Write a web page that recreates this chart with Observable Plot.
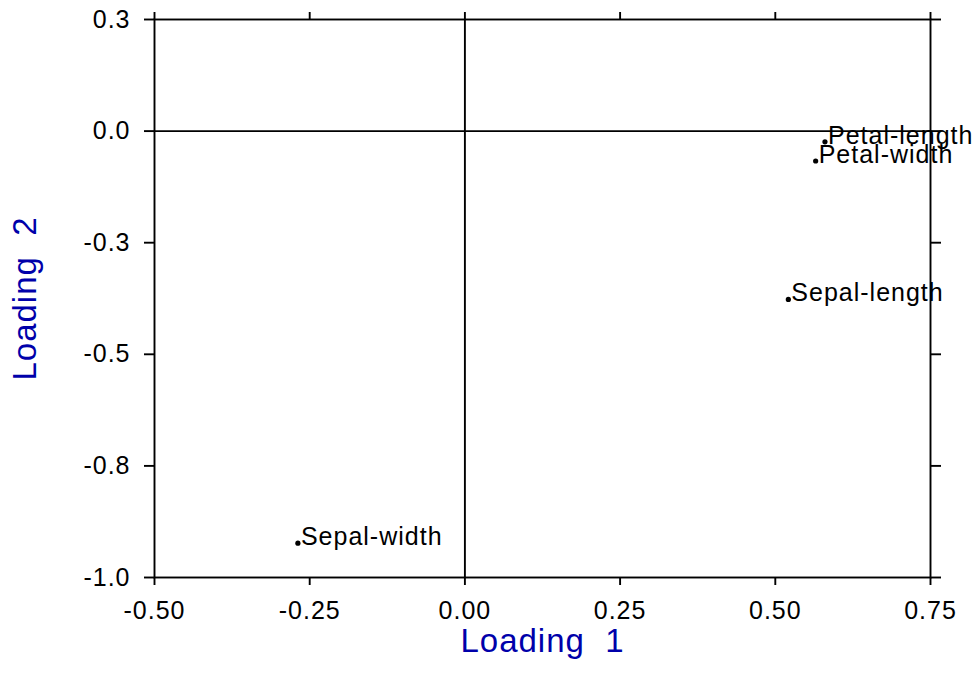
<!DOCTYPE html>
<html>
<head>
<meta charset="utf-8">
<script src="https://cdn.jsdelivr.net/npm/d3@7"></script>
<script src="https://cdn.jsdelivr.net/npm/@observablehq/plot@0.6"></script>
<style>
  html, body { margin: 0; padding: 0; background: #fff; }
  svg text { letter-spacing: 1px; }
</style>
</head>
<body>
<div id="chart"></div>
<script>
const variables = ["Sepal-length", "Sepal-width", "Petal-length", "Petal-width"];
const loading1 = [0.521, -0.269, 0.580, 0.565];
const loading2 = [-0.377, -0.923, -0.024, -0.067];

const xTicks = [-0.5, -0.25, 0, 0.25, 0.5, 0.75];
const xTickLabels = ["-0.50", "-0.25", "0.00", "0.25", "0.50", "0.75"];
const yTicks = [0.25, 0, -0.25, -0.5, -0.75, -1.0];
const yTickLabels = ["0.3", "0.0", "-0.3", "-0.5", "-0.8", "-1.0"];

const xTitle = "Loading  1";
const yTitle = "Loading  2";

const points = variables.map((name, i) => ({name, x: loading1[i], y: loading2[i]}));
const xFmt = d => xTickLabels[xTicks.indexOf(d)];
const yFmt = d => yTickLabels[yTicks.indexOf(d)];

const sw = 1.9;
const chart = Plot.plot({
  width: 978,
  height: 674,
  marginLeft: 154,
  marginRight: 48,
  marginTop: 19,
  marginBottom: 97,
  style: {fontFamily: "'Liberation Sans', Arial, sans-serif", fontSize: "25px", color: "#000", background: "#fff"},
  x: {domain: [-0.5, 0.75]},
  y: {domain: [-1.0, 0.25]},
  marks: [
    Plot.frame({stroke: "#000", strokeWidth: sw}),
    Plot.ruleY([0], {stroke: "#000", strokeWidth: sw}),
    Plot.ruleX([0], {stroke: "#000", strokeWidth: sw}),
    Plot.axisX({anchor: "bottom", ticks: xTicks, tickFormat: xFmt, tickSize: 8, tickPadding: 16, strokeWidth: sw, label: null, fontSize: 25}),
    Plot.axisX({anchor: "top", ticks: xTicks, tickSize: 8, text: null, strokeWidth: sw, label: null}),
    Plot.axisY({anchor: "left", ticks: yTicks, tickFormat: yFmt, tickSize: 10, tickPadding: 14, strokeWidth: sw, label: null, fontSize: 25}),
    Plot.axisY({anchor: "right", ticks: yTicks, tickSize: 10, text: null, strokeWidth: sw, label: null}),
    Plot.dot(points, {x: "x", y: "y", r: 2.6, fill: "#000", stroke: null}),
    Plot.text(points, {x: "x", y: "y", text: "name", textAnchor: "start", lineAnchor: "middle", dx: 3, dy: -6, fontSize: 25, fill: "#000"}),
    Plot.text([xTitle], {frameAnchor: "bottom", textAnchor: "middle", dy: 74, fontSize: 33, fill: "#0000aa"}),
    Plot.text([yTitle], {frameAnchor: "left", textAnchor: "middle", rotate: -90, dx: -129, fontSize: 33, fill: "#0000aa"})
  ]
});
document.getElementById("chart").appendChild(chart);
</script>
</body>
</html>
